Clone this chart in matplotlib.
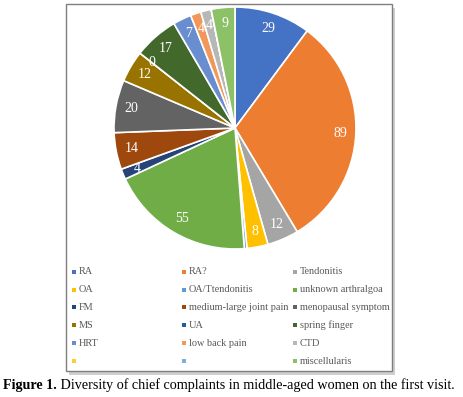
import matplotlib
matplotlib.use("Agg")
import matplotlib.pyplot as plt
from matplotlib.patches import Rectangle
import numpy as np

categories = ["RA", "RA?", "Tendonitis", "OA", "OA/Ttendonitis", "unknown arthralgoa",
              "FM", "medium-large joint pain", "menopausal symptom", "MS", "UA",
              "spring finger", "HRT", "low back pain", "CTD", "", "", "miscellularis"]
values = [29, 89, 12, 8, 1, 55, 4, 14, 20, 12, 0, 17, 7, 4, 4, 0, 0, 9]
colors = ["#4472C4", "#ED7D31", "#A5A5A5", "#FFC000", "#5B9BD5", "#70AD47",
          "#264478", "#9E480E", "#636363", "#997300", "#255E91", "#43682B",
          "#698ED0", "#F1975A", "#B7B7B7", "#FFCD33", "#7CAFDD", "#8CC168"]
show_label = [True, True, True, True, False, True, True, True, True, True, True,
              True, True, True, True, False, False, True]
caption_bold = "Figure 1."
caption_rest = " Diversity of chief complaints in middle-aged women on the first visit."

W, H = 464, 397
fig = plt.figure(figsize=(W / 100, H / 100), dpi=100)

def fx(px):
    return px / W

def fy(py):
    return 1 - py / H

# chart frame with shadow
shadow = Rectangle((fx(69), fy(375)), fx(392) - fx(66), fy(4) - fy(371),
                   transform=fig.transFigure, facecolor="#b0b0b0", edgecolor="none",
                   zorder=0, alpha=0.6)
fig.patches.append(shadow)
frame = Rectangle((fx(66), fy(371)), fx(392) - fx(66), fy(4) - fy(371),
                  transform=fig.transFigure, facecolor="white", edgecolor="#7f7f7f",
                  linewidth=1.0, zorder=1)
fig.patches.append(frame)

# pie axes: center (235,128), radius 121
cx, cy, r = 235, 128, 121
ax = fig.add_axes([fx(cx - r), fy(cy + r), fx(2 * r), fy(cy - r) - fy(cy + r)])
ax.set_zorder(2)
wedges, _ = ax.pie(values, colors=colors, startangle=90, counterclock=False,
                   radius=1.0, wedgeprops=dict(edgecolor="white", linewidth=1.2))
ax.set_xlim(-1, 1)
ax.set_ylim(-1, 1)
ax.set_aspect("equal")
ax.axis("off")

total = sum(values)
cum = 0
for v, show in zip(values, show_label):
    mid = (cum + v / 2) / total * 2 * np.pi
    cum += v
    if not show:
        continue
    d = 0.87
    x = d * np.sin(mid)
    y = d * np.cos(mid)
    ax.text(x, y, str(v), ha="center", va="center", color="white",
            fontsize=10, family="Liberation Serif")

# legend
col_x = [72, 182, 293]
row_y = [272, 290, 307, 325, 343, 361]
for i, (cat, col) in enumerate(zip(categories, colors)):
    rr, cc = divmod(i, 3)
    x0 = col_x[cc]
    y0 = row_y[rr]
    fig.patches.append(Rectangle((fx(x0), fy(y0 + 2)), fx(4), fy(0) - fy(4),
                                 transform=fig.transFigure, facecolor=col,
                                 edgecolor="none", zorder=3))
    fig.text(fx(x0 + 7), fy(y0), cat, ha="left", va="center", color="#595959",
             fontsize=7.4, family="Liberation Serif", zorder=3)

# caption
t1 = fig.text(fx(3), fy(385), caption_bold, ha="left", va="center",
              fontsize=10.2, family="Liberation Serif", fontweight="bold")
fig.canvas.draw()
bb = t1.get_window_extent(renderer=fig.canvas.get_renderer())
fig.text(bb.x1 / W, fy(385), caption_rest, ha="left", va="center",
         fontsize=10.2, family="Liberation Serif")

fig.savefig("out.png", dpi=100)
